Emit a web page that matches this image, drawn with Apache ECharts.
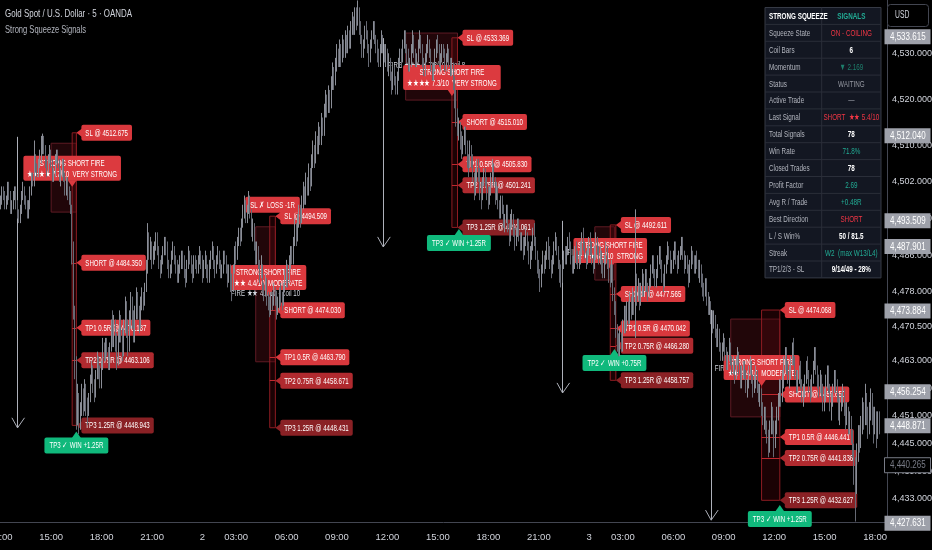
<!DOCTYPE html>
<html><head><meta charset="utf-8">
<script src="https://cdn.jsdelivr.net/npm/echarts@6/dist/echarts.min.js"></script>
<style>html,body{margin:0;padding:0;background:#000;}#c{width:932px;height:550px;}</style>
</head><body><div id="c"></div>
<script>
const FAM = "'Liberation Sans', Arial, sans-serif";

// ---- sessions (day label, first bar time, bar count) ----
const sessions = [['1','12:00',144],['2','01:00',276],['3','01:00',213]];

// ---- 5-minute candles (open = previous close) ----
const firstOpen = 4497;
const closes = [
4498,4500,4499,4497,4498,4501,4499,4496,4497,4499,
4500,4497,4495,4494,4496,4499,4500,4498,4497,4495,
4497,4500,4503,4502,4507,4505,4504,4506,4508,4509,
4511,4509,4506,4505,4507,4508,4506,4503,4504,4507,
4508,4506,4503,4504,4506,4503,4501,4502,4500,4499,
4497,4486,4474,4462,4451,4455,4449,4452,4456,4453,
4457,4454,4452,4455,4459,4461,4458,4456,4460,4463,
4461,4458,4462,4466,4464,4467,4465,4462,4466,4470,
4468,4471,4467,4464,4468,4472,4469,4466,4470,4474,
4470,4467,4471,4475,4472,4469,4473,4477,4474,4471,
4475,4477,4476,4479,4483,4489,4487,4488,4485,4486,
4488,4490,4487,4484,4483,4485,4486,4489,4488,4484,
4482,4483,4486,4487,4485,4484,4481,4483,4484,4486,
4485,4482,4481,4484,4486,4485,4483,4482,4485,4484,
4483,4485,4486,4484,
4482,4484,4485,4483,4481,4484,4486,4487,4484,4483,
4485,4486,4484,4482,4483,4486,4485,4483,4481,4483,
4481,4479,4483,4487,4486,4489,4491,4490,4493,4495,
4497,4494,4496,4498,4495,4491,4492,4488,4486,4487,
4484,4482,4483,4479,4478,4480,4477,4475,4474,4477,
4476,4478,4477,4474,4475,4478,4477,4476,4479,4481,
4483,4481,4484,4487,4485,4489,4492,4490,4493,4496,
4494,4497,4500,4498,4502,4500,4504,4502,4506,4509,
4507,4511,4509,4513,4511,4515,4513,4517,4520,4518,
4521,4519,4523,4526,4524,4527,4530,4528,4531,4529,
4532,4530,4533,4531,4534,4532,4535,4537,4535,4538,
4537,4539,4536,4533,4530,4532,4535,4534,4531,4529,
4532,4534,4536,4533,4532,4530,4528,4531,4533,4532,
4529,4530,4527,4528,4525,4523,4526,4524,4522,4525,
4528,4530,4529,4532,4534,4531,4530,4527,4528,4531,
4533,4530,4528,4529,4532,4533,4531,4528,4526,4529,
4531,4532,4530,4527,4525,4527,4530,4532,4531,4528,
4529,4531,4530,4527,4529,4530,4528,4526,4527,4524,
4520,4516,4513,4514,4511,4509,4511,4513,4510,4507,
4506,4509,4507,4503,4501,4503,4506,4504,4500,4499,
4502,4504,4502,4499,4498,4500,4503,4505,4502,4499,
4500,4497,4495,4498,4496,4493,4494,4496,4492,4490,
4493,4494,4491,4489,4491,4493,4490,4488,4489,4487,
4489,4490,4488,4485,4486,4488,4491,4489,4486,4484,
4482,4480,4483,4485,4484,4486,4488,4487,4484,4483,
4485,4488,4489,4487,4484,4482,4481,4484,4486,4485,
4487,4489,4488,4485,4483,4484,4487,4486,4484,4485,
4487,4490,4488,4486,4485,4487,
4489,4488,4485,4484,4486,4489,4487,4485,4486,4484,
4482,4485,4487,4484,4482,4481,4483,4478,4475,4470,
4467,4465,4468,4466,4470,4473,4471,4474,4472,4476,
4474,4477,4475,4480,4477,4479,4476,4478,4481,4479,
4481,4479,4478,4480,4483,4484,4482,4480,4482,4485,
4486,4484,4481,4480,4483,4485,4487,4486,4483,4484,
4486,4488,4485,4484,4486,4487,4489,4486,4484,4485,
4483,4481,4484,4486,4485,4483,4485,4484,4482,4483,
4481,4479,4478,4480,4477,4474,4475,4473,4471,4472,
4469,4467,4469,4466,4464,4466,4467,4465,4462,4464,
4466,4463,4461,4462,4460,4463,4464,4461,4459,4460,
4462,4460,4457,4458,4461,4462,4459,4457,4458,4460,
4457,4455,4456,4453,4450,4452,4449,4447,4445,4448,
4452,4449,4446,4448,4451,4454,4457,4455,4459,4462,
4464,4461,4459,4460,4463,4465,4463,4460,4458,4459,
4461,4458,4455,4456,4459,4461,4460,4457,4456,4459,
4462,4464,4461,4458,4457,4459,4456,4454,4455,4458,
4460,4457,4453,4454,4457,4459,4458,4455,4452,4453,
4455,4456,4453,4451,4452,4449,4450,4447,4444,4440,
4436,4442,4447,4445,4449,4452,4450,4454,4451,4449,
4452,4455,4451,4448,4451,4447,4450,4449
];
const highs = [
4499,4501,4501,4500,4499,4502,4502,4500,4498,4500,
4501,4501,4498,4496,4497,4500,4502,4501,4499,4498,
4498,4501,4504,4504,4511,4508,4506,4507,4509,4512,
4512.5,4512,4510,4507,4508,4510,4509,4507,4505,4508,
4509,4509,4507,4505,4507,4507,4504,4503,4503,4501,
4500,4497,4489,4475,4464,4458,4456,4454,4458,4457,
4459,4458,4455,4456,4460,4463,4462,4459,4461,4465,
4464,4462,4463,4468,4467,4468,4468,4466,4467,4472,
4474,4473,4472,4469,4470,4474,4473,4470,4472,4477,
4476,4472,4474,4478,4477,4474,4475,4479,4478,4475,
4477,4479,4478,4480,4485,4493,4491,4490,4489,4488,
4489,4491,4491,4488,4485,4486,4488,4490,4490,4489,
4485,4484,4487,4489,4488,4486,4485,4484,4486,4487,
4487,4486,4483,4485,4488,4487,4486,4484,4486,4486,
4485,4486,4488,4487,
4486,4485,4487,4486,4484,4485,4487,4489,4488,4485,
4486,4488,4487,4485,4484,4487,4487,4486,4484,4484,
4484,4482,4484,4488,4489,4490,4492,4492,4494,4497,
4499,4498,4497,4500,4499,4496,4494,4493,4489,4489,
4488,4485,4486,4484,4480,4482,4481,4478,4477,4478,
4478,4480,4479,4478,4477,4479,4480,4478,4480,4483,
4485,4484,4486,4488,4488,4490,4494,4493,4495,4497,
4497,4499,4502,4501,4504,4503,4506,4505,4508,4511,
4510,4513,4512,4515,4514,4517,4516,4519,4522,4521,
4523,4522,4525,4528,4527,4529,4532,4531,4533,4532,
4534,4533,4535,4534,4536,4535,4537,4539,4538,4540,
4540,4541.5,4540,4537,4534,4533,4536,4537,4535,4532,
4533,4535,4537,4537,4534,4533,4531,4532,4535,4534,
4532,4532,4531,4530,4529,4526,4527,4527,4525,4526,
4529,4531,4531,4533,4535,4535,4532,4531,4529,4532,
4535,4534,4531,4530,4533,4535,4534,4532,4529,4530,
4532,4534,4533,4531,4528,4528,4531,4533,4534,4532,
4530,4532,4532,4531,4530,4532,4531,4529,4529,4528,
4525,4522,4518,4516,4515,4513,4512,4514,4514,4511,
4508,4511,4510,4508,4504,4505,4507,4507,4505,4502,
4503,4505,4505,4503,4501,4501,4504,4507,4506,4503,
4502,4501,4498,4499,4499,4497,4495,4497,4497,4493,
4495,4496,4495,4492,4492,4494,4494,4491,4491,4490,
4490,4492,4491,4489,4488,4489,4492,4493,4490,4487,
4485,4483,4484,4487,4486,4487,4489,4490,4488,4485,
4486,4489,4491,4490,4488,4485,4484,4485,4487,4488,
4488,4490,4491,4489,4486,4486,4488,4489,4487,4487,
4489,4491,4492,4489,4487,4488,
4490,4491,4489,4486,4488,4491,4490,4488,4488,4487,
4485,4486,4489,4488,4485,4484,4485,4484,4479,4476,
4471,4469,4470,4469,4472,4475,4475,4476,4476,4478,
4477,4479,4478,4496,4482,4481,4480,4480,4483,4482,
4483,4483,4480,4481,4484,4486,4486,4483,4483,4486,
4488,4488,4485,4482,4484,4486,4489,4488,4487,4485,
4487,4489,4489,4486,4487,4488,4490,4490,4487,4486,
4486,4484,4485,4488,4487,4486,4486,4487,4485,4485,
4484,4482,4480,4481,4481,4478,4477,4476,4474,4474,
4473,4470,4471,4470,4467,4467,4469,4468,4466,4465,
4468,4467,4464,4464,4463,4464,4466,4465,4462,4462,
4463,4463,4461,4459,4462,4464,4463,4460,4460,4462,
4461,4458,4458,4457,4454,4453,4453,4450,4448,4450,
4454,4453,4450,4450,4453,4456,4459,4459,4461,4464,
4466,4466,4463,4462,4464,4467,4468,4464,4461,4461,
4462,4463,4459,4458,4460,4463,4464,4461,4459,4460,
4463,4466,4466,4462,4460,4461,4460,4458,4457,4460,
4462,4462,4458,4456,4458,4461,4461,4459,4456,4455,
4456,4458,4457,4454,4454,4453,4452,4451,4448,4445,
4442,4445,4449,4449,4451,4455,4454,4458,4456,4453,
4454,4457,4456,4453,4453,4452,4452,4452
];
const lows = [
4496,4497,4498,4496,4496,4497,4498,4495,4495,4496,
4498,4496,4494,4493,4493,4495,4498,4497,4496,4494,
4494,4496,4499,4501,4501,4504,4503,4503,4505,4506,
4508,4508,4505,4503,4504,4506,4505,4502,4502,4503,
4506,4505,4502,4501,4503,4502,4499,4499,4498,4497,
4495,4484,4472,4459,4448,4449,4447,4448,4451,4451,
4452,4451,4449,4451,4454,4458,4456,4454,4455,4459,
4459,4457,4457,4461,4463,4463,4464,4461,4461,4465,
4466,4466,4465,4461,4462,4467,4467,4463,4464,4469,
4468,4464,4465,4470,4470,4467,4467,4472,4472,4469,
4470,4474,4474,4475,4478,4482,4485,4485,4483,4484,
4485,4487,4486,4483,4481,4482,4484,4486,4486,4483,
4481,4481,4482,4485,4484,4482,4480,4480,4482,4483,
4483,4481,4479,4480,4483,4484,4482,4480,4481,4483,
4482,4482,4484,4483,
4480,4481,4483,4481,4480,4480,4483,4485,4483,4481,
4482,4484,4483,4481,4481,4482,4484,4482,4479,4480,
4478,4476,4478,4482,4484,4485,4488,4488,4489,4492,
4494,4493,4493,4495,4494,4490,4489,4487,4484,4484,
4483,4480,4481,4478,4476,4477,4475,4474,4472.5,4473,
4474,4475,4475,4472,4473,4474,4475,4474,4475,4478,
4479,4479,4480,4483,4484,4484,4488,4488,4489,4492,
4492,4493,4496,4497,4497,4499,4499,4500,4501,4505,
4505,4506,4508,4508,4510,4510,4512,4512,4516,4516,
4517,4517,4518,4522,4522,4523,4526,4527,4527,4527,
4528,4529,4529,4530,4530,4531,4531,4534,4534,4534,
4535,4536,4534,4532,4529,4529,4531,4533,4530,4527,
4528,4531,4533,4532,4530,4528,4527,4527,4530,4530,
4528,4527,4526,4525,4524,4521,4522,4523,4521,4521,
4524,4527,4527,4528,4531,4530,4528,4526,4526,4527,
4530,4529,4527,4527,4528,4531,4530,4527,4525,4525,
4528,4530,4529,4526,4524,4524,4526,4529,4530,4527,
4526,4528,4529,4526,4526,4528,4527,4525,4525,4522,
4518,4514,4512,4511,4509,4507,4508,4510,4508,4505,
4503,4505,4505,4502,4498,4499,4502,4502,4498,4496,
4498,4501,4501,4498,4496,4497,4499,4502,4501,4497,
4498,4496,4494,4494,4495,4492,4491,4493,4491,4488,
4489,4492,4490,4487,4488,4490,4489,4487,4487,4485,
4486,4488,4487,4484,4483,4485,4487,4488,4485,4482,
4481,4478,4479,4482,4482,4483,4485,4485,4483,4481,
4482,4484,4487,4486,4483,4480,4479,4480,4483,4484,
4484,4486,4487,4484,4482,4482,4483,4484,4483,4483,
4484,4486,4487,4485,4483,4484,
4486,4486,4484,4482,4483,4485,4486,4484,4484,4482,
4481,4481,4484,4483,4480,4479,4480,4476,4473,4468,
4465,4464,4464,4465,4465,4469,4469,4470,4471,4471,
4472,4473,4473,4468,4475,4476,4474,4475,4477,4477,
4478,4478,4476,4477,4479,4482,4481,4479,4479,4481,
4484,4483,4480,4478,4479,4482,4484,4485,4482,4482,
4483,4485,4484,4482,4483,4485,4486,4485,4482,4483,
4482,4479,4480,4483,4484,4482,4482,4483,4481,4480,
4479,4477,4476,4477,4475,4473,4473,4471,4469,4470,
4468,4466,4466,4465,4463,4463,4465,4463,4461,4461,
4463,4462,4460,4460,4458,4459,4462,4460,4457,4457,
4459,4459,4456,4455,4457,4460,4458,4455,4456,4457,
4456,4454,4453,4451,4449,4448,4447,4445,4442,4443,
4447,4447,4442,4444,4447,4450,4453,4453,4454,4457,
4461,4460,4458,4457,4459,4462,4462,4459,4456,4456,
4458,4457,4454,4453,4455,4458,4459,4456,4454,4455,
4458,4461,4460,4457,4455,4456,4455,4452,4452,4454,
4457,4456,4452,4450,4453,4456,4456,4454,4450,4449,
4452,4453,4451,4448,4449,4447,4447,4445,4442,4436,
4428,4434,4441,4443,4444,4447,4448,4449,4449,4446,
4447,4450,4449,4445,4447,4444,4446,4447
];

// ---- price axis ----
const yTicks = [4530, 4520, 4510, 4502, 4494, 4486, 4478, 4470.5, 4463, 4457, 4451, 4445, 4439, 4433];
const priceTags = [4533.615, 4512.040, 4493.509, 4487.901, 4473.884, 4456.254, 4448.871, 4427.631];
const outlinedTags = [4440.265];

// ---- signals: [SL, SHORT, TP1, TP2, TP3] ----
const sigLevels = [
  [4512.675, 4484.350, 4470.187, 4463.106, 4448.943],
  [4494.509, 4474.030, 4463.790, 4458.671, 4448.431],
  [4533.369, 4515.010, 4505.830, 4501.241, 4492.061],
  [4492.611, 4477.565, 4470.042, 4466.280, 4458.757],
  [4474.068, 4455.650, 4446.441, 4441.836, 4432.627]
];
const levelNames = ['SL @ ', 'SHORT @ ', 'TP1 0.5R @ ', 'TP2 0.75R @ ', 'TP3 1.25R @ '];
const sigLabelBar = [54, 196, 326, 439, 556];
const tradeStartBar = [51, 192, 322, 435, 543];
// squeeze boxes: [startBar, endBar, top, bottom]
const squeezeBoxes = [
  [36, 54, 4510.4, 4495.4],
  [182, 196, 4492.2, 4462.8],
  [289, 326, 4534.4, 4519.8],
  [424, 438, 4492.2, 4480.6],
  [521, 556, 4472.1, 4450.8]
];
// fire labels: [bar, price, text]
const fireLabels = [
  [51, 4500.9, 'STRONG SHORT FIRE\n★★★★ 7.7/10  VERY STRONG'],
  [191, 4477.1, 'STRONG SHORT FIRE\n★★ 4.4/10  MODERATE'],
  [322, 4520.7, 'STRONG SHORT FIRE\n★★★★ 7.3/10  VERY STRONG'],
  [435, 4483.0, 'STRONG SHORT FIRE\n★★★ 6.5/10  STRONG'],
  [543, 4457.5, 'STRONG SHORT FIRE\n★★ 4.4/10  MODERATE']
];
const fireTexts = [
  [44, 4503.5, 'FIRE ★★★★ 7.7/10 - coil 7'],
  [189, 4477.6, 'FIRE ★★ 4.4/10 - coil 10'],
  [304, 4527.2, 'FIRE ★★★★ 7.3/10 - coil 8'],
  [430, 4486.5, 'FIRE ★★★ 6.5/10 - coil 6'],
  [533, 4461.4, 'FIRE ★★ 4.4/10 - coil 9']
];
const winLabels = [
  [54, 4447.6, 'TP3 ✓ WIN +1.25R'],
  [327, 4491.7, 'TP3 ✓ WIN +1.25R'],
  [438, 4465.6, 'TP2 ✓ WIN +0.75R'],
  [556, 4431.6, 'TP3 ✓ WIN +1.25R']
];
const lossLabels = [[194, 4497.0, 'SL ✗ LOSS -1R']];
// arrows: [bar, topPrice, tipPrice]
const arrows = [[12, 4511.8, 4448.4], [273, 4533.3, 4487.8], [401, 4493.5, 4456.0], [507, 4474.1, 4428.3]];

// ---- table ----
const tableKeys = ['STRONG SQUEEZE','Squeeze State','Coil Bars','Momentum','Status','Active Trade','Last Signal','Total Signals','Win Rate','Closed Trades','Profit Factor','Avg R / Trade','Best Direction','L / S Win%','Streak','TP1/2/3 - SL'];
const tableVals = ['SIGNALS','ON - COILING','6','▼ 2.169','WAITING','—','SHORT  ★★ 5.4/10','78','71.8%','78','2.69','+0.48R','SHORT','50 / 81.5','W2  (max W13/L4)','9/14/49 - 28%'];

// ================= build =================
const GREEN = '#22ab94', RED = '#f23645', WHITE = '#ffffff', GRAY = '#9598a1';
const valColors = [GREEN, RED, WHITE, '#1e7f6c', GRAY, GRAY, RED, WHITE, GREEN, WHITE, GREEN, GREEN, RED, WHITE, GREEN, WHITE];
const valBold = [1,0,1,0,0,0,0,1,0,1,0,0,0,1,0,1];

const mctx = document.createElement('canvas').getContext('2d');
const measure = (t, f) => { mctx.font = f; return mctx.measureText(t).width; };

const pad = n => (n < 10 ? '0' : '') + n;
const categories = [];
sessions.forEach(([d, st, n]) => {
  const [h, m] = st.split(':').map(Number);
  for (let k = 0; k < n; k++) {
    const t = h * 60 + m + 5 * k;
    categories.push(d + ' ' + pad(Math.floor(t / 60)) + ':' + pad(t % 60));
  }
});

const candles = closes.map((c, i) => {
  const o = i === 0 ? firstOpen : closes[i - 1];
  return [o, c, Math.min(lows[i], o, c), Math.max(highs[i], o, c)];
});

const LBL_COL = ['#d8383d', '#d8383d', '#d8383d', '#b02a2f', '#8a2125'];
const FIRE_COL = '#dc3a3f';
const WIN_COL = '#10b97c';

// label items drawn through a custom series (api.coord)
const labelItems = [];
fireTexts.forEach(([b, p, t]) => labelItems.push({b, p, t, kind: 'text', color: '#d1d4dc'}));
sigLevels.forEach((lv, s) => lv.forEach((v, k) => labelItems.push({b: sigLabelBar[s], p: v, t: levelNames[k] + v.toFixed(3), kind: 'left', color: LBL_COL[k]})));
fireLabels.forEach(([b, p, t]) => labelItems.push({b, p, t, kind: 'down', color: FIRE_COL}));
winLabels.forEach(([b, p, t]) => labelItems.push({b, p, t, kind: 'up', color: WIN_COL}));
lossLabels.forEach(([b, p, t]) => labelItems.push({b, p, t, kind: 'box', color: '#d8383d'}));

const SX = 0.72;
const LFONT = '8.5px ' + FAM;
function renderLabel(params, api) {
  const d = labelItems[api.value(2)];
  const pt = api.coord([api.value(0), api.value(1)]);
  const x = pt[0], y = pt[1];
  const lines = d.t.split('\n');
  const w = Math.max(...lines.map(l => measure(l, LFONT))) * SX;
  const ch = [];
  const txt = (tx, ty, align) => ({type: 'text', x: tx, y: ty, scaleX: SX,
    style: {text: d.t, font: LFONT, fill: d.kind === 'text' ? d.color : '#fff', align, verticalAlign: 'middle', lineHeight: 11}});
  if (d.kind === 'left') {
    const bx = x + 5, bw = w + 8, bh = 16;
    ch.push({type: 'polygon', shape: {points: [[x, y], [bx + 1, y - 4.5], [bx + 1, y + 4.5]]}, style: {fill: d.color}});
    ch.push({type: 'rect', shape: {x: bx, y: y - bh / 2, width: bw, height: bh, r: 2}, style: {fill: d.color}});
    ch.push(txt(bx + 4, y + 0.5, 'left'));
  } else if (d.kind === 'down') {
    const bw = w + 8, bh = 25, by = y - 6 - bh;
    ch.push({type: 'polygon', shape: {points: [[x, y], [x - 4.5, y - 6.5], [x + 4.5, y - 6.5]]}, style: {fill: d.color}});
    ch.push({type: 'rect', shape: {x: x - bw / 2, y: by, width: bw, height: bh, r: 2}, style: {fill: d.color}});
    ch.push(txt(x, by + bh / 2 + 0.5, 'center'));
  } else if (d.kind === 'up') {
    const bw = w + 10, bh = 16, by = y + 6;
    ch.push({type: 'polygon', shape: {points: [[x, y], [x - 4.5, y + 6.5], [x + 4.5, y + 6.5]]}, style: {fill: d.color}});
    ch.push({type: 'rect', shape: {x: x - bw / 2, y: by, width: bw, height: bh, r: 2}, style: {fill: d.color}});
    ch.push(txt(x, by + bh / 2 + 0.5, 'center'));
  } else if (d.kind === 'box') {
    const bw = w + 10, bh = 16;
    ch.push({type: 'rect', shape: {x: x - bw / 2, y: y - bh / 2, width: bw, height: bh, r: 2}, style: {fill: d.color}});
    ch.push(txt(x, y + 0.5, 'center'));
  } else {
    ch.push(txt(x, y, 'center'));
  }
  return {type: 'group', children: ch};
}

// price tags on the axis
const tagItems = priceTags.map(v => ({p: v, outlined: false})).concat(outlinedTags.map(v => ({p: v, outlined: true})));
const fmtPrice = v => Number(v).toLocaleString('en-US', {minimumFractionDigits: 3, maximumFractionDigits: 3});
const TFONT = '10px ' + FAM, TSX = 0.8;
function renderTag(params, api) {
  const d = tagItems[api.value(2)];
  const y = api.coord([0, api.value(1)])[1];
  const cs = params.coordSys;
  const x0 = cs.x + cs.width;
  return {type: 'group', children: [
    {type: 'rect', shape: {x: x0 - 2.5, y: y - 7.5, width: 46, height: 15}, style: d.outlined ? {fill: '#000', stroke: '#787b86', lineWidth: 1} : {fill: '#9ea1aa'}},
    {type: 'text', x: x0 + 3, y: y + 0.5, scaleX: TSX, style: {text: fmtPrice(d.p), font: TFONT, fill: d.outlined ? '#787b86' : '#fff', verticalAlign: 'middle'}}
  ]};
}

const ml = [];
sigLevels.forEach((lv, s) => [1, 2, 3].forEach(k => ml.push([
  {coord: [tradeStartBar[s], lv[k]], lineStyle: {color: '#c0282e', width: 1, type: 'solid'}},
  {coord: [sigLabelBar[s], lv[k]]}
])));
const ARW = {color: '#aeb1ba', width: 1, type: 'solid'};
arrows.forEach(([b, top, tip]) => {
  ml.push([{coord: [b, top], lineStyle: ARW}, {coord: [b, tip]}]);
  ml.push([{coord: [b - 4.5, tip + 2.2], lineStyle: ARW}, {coord: [b, tip]}]);
  ml.push([{coord: [b + 4.5, tip + 2.2], lineStyle: ARW}, {coord: [b, tip]}]);
});

const ma = [];
squeezeBoxes.forEach(([b0, b1, t, bt]) => ma.push([
  {coord: [b0, t], itemStyle: {color: 'rgba(120,20,32,0.28)', borderColor: '#5e1b24', borderWidth: 1}},
  {coord: [b1, bt]}
]));
sigLevels.forEach((lv, s) => ma.push([
  {coord: [tradeStartBar[s], lv[0]], itemStyle: {color: 'rgba(90,5,12,0.30)', borderColor: '#8e1c22', borderWidth: 1}},
  {coord: [sigLabelBar[s], lv[4]]}
]));

// title / table / USD graphics (scaled narrow text)
const gText = (text, x, y, font, fill, sx, align, z) => ({type: 'text', x, y, scaleX: sx, z: z || 102,
  style: {text, font, fill, align: align || 'left', verticalAlign: 'middle'}});
const TITLE = 'Gold Spot / U.S. Dollar · 5 · OANDA', SUB = 'Strong Squeeze Signals';
const TX = 765, TY = 7.5, TW = 116, RH = 16.9, SPLIT = 821.7, TBF = '9px ' + FAM, TBSX = 0.7;
const tableEls = [{type: 'rect', shape: {x: TX, y: TY, width: TW, height: RH * tableKeys.length},
  style: {fill: '#131722', stroke: '#363a45', lineWidth: 1}, z: 100}];
tableKeys.forEach((k, r) => {
  const cy = TY + r * RH + RH / 2 + 0.5;
  if (r > 0) tableEls.push({type: 'line', shape: {x1: TX, y1: TY + r * RH, x2: TX + TW, y2: TY + r * RH}, style: {stroke: '#2a2e39', lineWidth: 1}, z: 101});
  tableEls.push(gText(k, TX + 4, cy, (r === 0 ? 'bold ' : '') + TBF, r === 0 ? '#ffffff' : '#b2b5be', TBSX));
  tableEls.push(gText(tableVals[r], (SPLIT + TX + TW) / 2, cy, (valBold[r] ? 'bold ' : '') + TBF, valColors[r], TBSX, 'center'));
});
tableEls.push({type: 'line', shape: {x1: SPLIT, y1: TY, x2: SPLIT, y2: TY + RH * tableKeys.length}, style: {stroke: '#2a2e39', lineWidth: 1}, z: 101});

const chart = echarts.init(document.getElementById('c'), null, {renderer: 'canvas'});
chart.setOption({
  backgroundColor: '#000',
  animation: false,
  grid: {left: 0, right: 45, top: 0, bottom: 28, containLabel: false, outerBoundsMode: 'none'},
  xAxis: {
    type: 'category', data: categories, boundaryGap: true,
    axisLine: {show: true, lineStyle: {color: '#434651'}},
    axisTick: {show: false}, splitLine: {show: false},
    axisLabel: {
      color: '#d1d4dc', fontSize: 9.5, fontFamily: FAM, margin: 10,
      interval: (idx, val) => { const t = val.split(' ')[1]; if (t === '01:00') return true; const [hh, mm] = t.split(':'); return mm === '00' && (+hh) % 3 === 0; },
      formatter: val => { const [d, t] = val.split(' '); return t === '01:00' ? d : t; }
    }
  },
  yAxis: {
    type: 'value', position: 'right', min: 4427.9, max: 4541.6, scale: true,
    axisLine: {show: true, lineStyle: {color: '#434651'}},
    axisTick: {show: false}, splitLine: {show: false},
    axisLabel: {customValues: yTicks, color: '#d1d4dc', fontSize: 9, fontFamily: FAM, margin: 5, formatter: fmtPrice}
  },
  graphic: [
    gText(TITLE, 5, 13.5, '11px ' + FAM, '#d1d4dc', 127 / measure(TITLE, '11px ' + FAM)),
    gText(SUB, 5, 29.5, '11px ' + FAM, '#b2b5be', 81 / measure(SUB, '11px ' + FAM)),
    {type: 'rect', shape: {x: 887.5, y: 4.5, width: 41, height: 22, r: 3}, style: {fill: '#000', stroke: '#434651'}, z: 100},
    gText('USD', 895, 15.5, '10px ' + FAM, '#d1d4dc', 0.68),
    ...tableEls
  ],
  series: [
    {
      name: 'overlay', type: 'line', data: [], z: 1, silent: true,
      markArea: {silent: true, z: 1, data: ma},
      markLine: {silent: true, z: 2, symbol: ['none', 'none'], label: {show: false}, data: ml}
    },
    {
      name: 'labels', type: 'custom', z: 3, silent: true, clip: false,
      data: labelItems.map((d, i) => [d.b, d.p, i]), renderItem: renderLabel
    },
    {
      name: 'XAUUSD', type: 'candlestick', data: candles, z: 4, large: false, barWidth: 0.5,
      itemStyle: {color: '#8a8d96', color0: '#666973', borderColor: '#8a8d96', borderColor0: '#666973', borderWidth: 1}
    },
    {
      name: 'tags', type: 'custom', z: 10, silent: true, clip: false,
      data: tagItems.map((d, i) => [0, d.p, i]), renderItem: renderTag
    }
  ]
});
</script></body></html>
